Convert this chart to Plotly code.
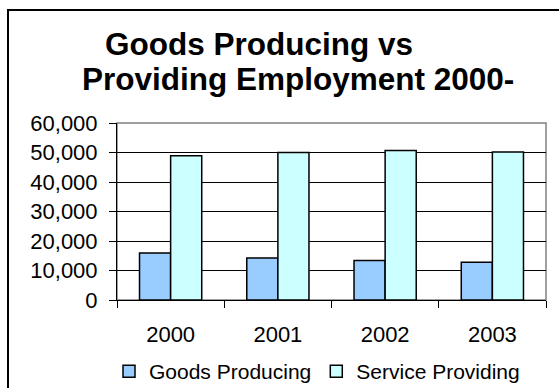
import plotly.graph_objects as go

# Employment by sector, thousands of jobs
years = ["2000", "2001", "2002", "2003"]
goods_producing = [15900, 14200, 13400, 12800]
service_providing = [48900, 50000, 50700, 50200]

title_line1 = "Goods Producing vs"
title_line2 = "Providing Employment 2000-"

FONT = "Liberation Sans, Arial, sans-serif"

W, H = 559, 388
L, R, T, B = 117, 13, 123, 88
PW, PH = W - L - R, H - T - B


def px_x(p):
    return (p - L) / PW


def px_y(p):
    return (H - B - p) / PH


fig = go.Figure()
fig.add_trace(go.Bar(
    name="Goods Producing", x=years, y=goods_producing,
    marker=dict(color="#99CCFF", line=dict(color="black", width=1.5)),
))
fig.add_trace(go.Bar(
    name="Service Providing", x=years, y=service_providing,
    marker=dict(color="#CCFFFF", line=dict(color="black", width=1.5)),
))

fig.update_layout(
    width=W, height=H, autosize=False,
    margin=dict(l=L, r=R, t=T, b=B, pad=0, autoexpand=False),
    paper_bgcolor="white", plot_bgcolor="white",
    font=dict(family=FONT, color="black"),
    barmode="group", bargap=0.42, bargroupgap=0,
    showlegend=True,
    legend=dict(
        orientation="h", x=px_x(109), y=px_y(392), xanchor="left", yanchor="bottom",
        font=dict(size=21, family=FONT), bgcolor="rgba(0,0,0,0)",
        itemwidth=30, tracegroupgap=0,
    ),
    xaxis=dict(
        type="category", showline=True, linecolor="black", linewidth=1,
        ticks="outside", tickson="boundaries", ticklen=7, tickcolor="black",
        tickfont=dict(size=22), ticklabelstandoff=15, showgrid=False,
    ),
    yaxis=dict(
        range=[0, 60000], dtick=10000, tickformat=",", showline=True,
        linecolor="black", linewidth=1, ticks="outside", ticklen=7,
        tickcolor="black", tickfont=dict(size=22), ticklabelstandoff=7,
        showgrid=True, gridcolor="black", gridwidth=1, zeroline=False,
    ),
    shapes=[
        # gray plot-area border
        dict(type="rect", xref="paper", yref="paper", x0=0, y0=0, x1=1, y1=1,
             line=dict(color="#808080", width=1.5), layer="below"),
        # outer chart frame
        dict(type="rect", xref="paper", yref="paper",
             x0=px_x(8), y0=px_y(420), x1=px_x(600), y1=px_y(10),
             line=dict(color="black", width=2)),
    ],
    annotations=[
        dict(text=f"<b>{title_line1}</b>", xref="paper", yref="paper",
             x=px_x(103), y=px_y(44), xanchor="left", yanchor="middle",
             showarrow=False, font=dict(size=31.5, family=FONT)),
        dict(text=f"<b>{title_line2}</b>", xref="paper", yref="paper",
             x=px_x(80), y=px_y(79), xanchor="left", yanchor="middle",
             showarrow=False, font=dict(size=31.5, family=FONT)),
    ],
)

fig.write_html("out.html")
